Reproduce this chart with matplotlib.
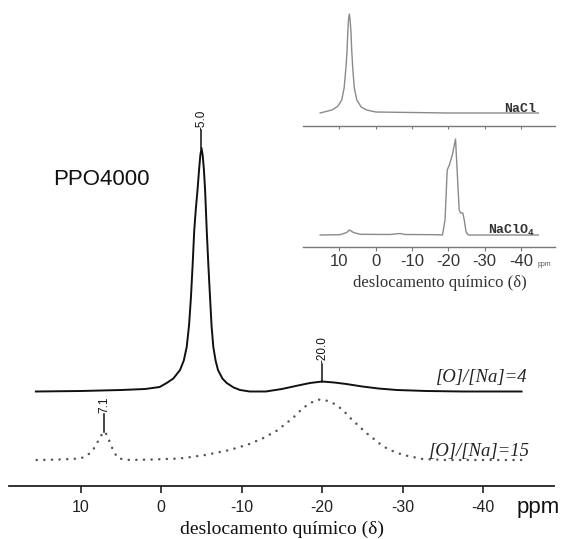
import matplotlib.pyplot as plt
import numpy as np

plt.rcParams['font.family'] = ['Liberation Sans', 'DejaVu Sans']
plt.rcParams['axes.unicode_minus'] = False

# main spectra, PPO4000 (ppm, intensity above own baseline, arbitrary units)
ppm_o4 = [15.6, 10.0, 5.0, 2.0, 0.2, -0.67, -1.5, -2.33, -2.8, -3.16, -3.45, -3.69, -3.9,
          -4.10, -4.3, -4.5, -4.7, -4.85, -5.0, -5.15, -5.3, -5.45, -5.65, -5.85, -6.06,
          -6.25, -6.47, -6.75, -7.05, -7.6, -8.13, -9.0, -9.8, -11.0, -13.0, -15.0, -17.0,
          -18.5, -20.0, -21.5, -23.0, -25.0, -27.0, -29.3, -33.0, -37.5, -44.8]
int_o4 = [0, 0.5, 1.5, 2.5, 4.5, 8.5, 13, 21.5, 31, 44.5, 66, 94.5, 127,
          161.5, 183, 201, 222, 236, 243.5, 236, 222, 201, 161.5, 127, 94.5,
          66, 44.5, 31, 21.5, 13, 8.5, 4, 1.5, 0, 0, 2.5, 6,
          8.5, 10, 9, 7.5, 5, 3, 1.5, 0.5, 0, 0]

ppm_o15 = [15.5, 12.5, 10.1, 9.3, 8.66, 8.2, 7.8, 7.4, 7.1, 6.85, 6.6, 6.3, 6.0, 5.65, 5.35,
           3.9, 1.0, -2.3, -5.5, -8.5, -10.8, -12.7, -14.3, -15.6, -16.7, -17.6, -18.8,
           -19.7, -20.8, -21.8, -22.7, -23.5, -24.5, -25.5, -26.6, -27.6, -28.9, -30.1,
           -32.5, -35.5, -40.0, -44.8]
int_o15 = [0.5, 1, 2, 4.5, 9, 14, 20.5, 26, 29, 26.5, 22.5, 16, 10.5, 5.5, 2,
           0.5, 1, 2, 5.5, 10.5, 16, 22.5, 29.5, 37.5, 45, 52.5, 58.5,
           61, 59.5, 55.5, 49.5, 42.5, 35, 27.5, 20.5, 14, 9, 5.5,
           1.5, 0.5, 0.5, 0.5]

offset_o4 = 94.2
offset_o15 = 25.2

peak_ppm = [-5.0, -20.0, 7.1]
peak_txt = ['-5.0', '-20.0', '7.1']
peak_top = [243.5 + offset_o4, 10 + offset_o4, 29 + offset_o15]

# inset: sodium salts
ppm_nacl = [15.3, 12.1, 10.5, 9.35, 8.7, 8.18, 7.9, 7.7, 7.5, 7.27, 7.05, 6.8, 6.6, 6.35,
            5.9, 5.2, 4.0, 2.5, 0.0, -20.0, -44.8]
int_nacl = [0, 3, 6.5, 13, 25, 46, 62, 80, 93, 99, 93, 80, 62, 46,
            25, 13, 6, 3, 1, 0, 0]

ppm_naclo4 = [15.3, 9.8, 8.0, 7.25, 6.1, 4.3, -3.9, -6.7, -8.1, -16.8, -18.4, -19.1,
              -19.7, -20.3, -21.1, -22.0, -22.5, -23.0, -23.4, -24.0, -24.4, -24.9,
              -25.5, -44.8]
int_naclo4 = [0, 0.3, 2.5, 5, 2.5, 0.7, 0.5, 1.5, 0.5, 0.3, 0, 15,
              65, 70, 80, 96, 60, 25, 22, 22, 15, 3,
              0, 0]

ticks = [10, 0, -10, -20, -30, -40]

W, H = 563, 539
fig = plt.figure(figsize=(W / 100, H / 100), dpi=100)

# ---- main plot ----
ax = fig.add_axes([9 / W, (H - 485.7) / H, 545 / W, 485.7 / H])
ax.set_xlim(18.94, -48.84)
ax.set_ylim(0, 485.7)
ax.patch.set_visible(False)
for s in ['left', 'right', 'top']:
    ax.spines[s].set_visible(False)
ax.spines['bottom'].set_linewidth(1.3)
ax.spines['bottom'].set_color('#222222')
ax.set_yticks([])
ax.set_xticks(ticks)
ax.set_xticklabels([str(t) for t in ticks])
ax.tick_params(axis='x', direction='out', length=5, width=1.2, pad=5.5,
               labelsize=11.5, colors='#222222')

ax.plot(ppm_o4, np.array(int_o4) + offset_o4, color='#111111', lw=1.4)
ax.plot(ppm_o15, np.array(int_o15) + offset_o15, color='#555555', lw=1.8,
        linestyle=(0, (0.05, 3.0)), dash_capstyle='round')

for p, t, top in zip(peak_ppm, peak_txt, peak_top):
    ax.plot([p, p], [top, top + 18], color='#111111', lw=1.1)
    ax.text(p, top + 18.5, t, rotation=90, ha='center', va='bottom', fontsize=8.5,
            color='#111111')

ax.text(13.47, 300.7, 'PPO4000', fontsize=16, ha='left', va='baseline', color='#111111')
ax.text(-45.5, 103.5, '[O]/[Na]=4', family='Liberation Serif', style='italic',
        fontsize=13.5, ha='right', va='baseline', color='#222222')
ax.text(-45.85, 29.5, '[O]/[Na]=15', family='Liberation Serif', style='italic',
        fontsize=13.5, ha='right', va='baseline', color='#222222')
ax.set_xlabel('deslocamento químico (δ)', family='Liberation Serif', fontsize=14,
              labelpad=4, color='#111111')
fig.text(517 / W, 1 - 512.7 / H, 'ppm', fontsize=16, ha='left', va='baseline',
         color='#111111')

# ---- inset ----
ix0, ix1 = 303, 555
axu = fig.add_axes([ix0 / W, (H - 126) / H, (ix1 - ix0) / W, 126 / H])
axl = fig.add_axes([ix0 / W, (H - 247) / H, (ix1 - ix0) / W, 121 / H])
for a, top in [(axu, 126), (axl, 121)]:
    a.set_xlim(20.03, -49.4)
    a.set_ylim(0, top)
    a.patch.set_visible(False)
    for s in ['left', 'right', 'top']:
        a.spines[s].set_visible(False)
    a.spines['bottom'].set_color('#777777')
    a.spines['bottom'].set_linewidth(1.0)
    a.set_yticks([])
    a.set_xticks(ticks)
    a.set_xticklabels([str(t) for t in ticks])

axu.tick_params(axis='x', direction='out', length=2.5, width=0.8, colors='#777777',
                labelbottom=False)
axl.tick_params(axis='x', direction='out', length=3, width=0.8, colors='#777777',
                labelsize=12, labelcolor='#333333', pad=2)

axu.plot(ppm_nacl, np.array(int_nacl) + 13, color='#8a8a8a', lw=1.0)
axl.plot(ppm_naclo4, np.array(int_naclo4) + 12, color='#8a8a8a', lw=1.0)

axu.text(-44.2, 14.5, 'NaCl', family='Liberation Mono', weight='bold', fontsize=9.5,
         ha='right', va='baseline', color='#333333')
axl.text(-44.0, 13.5, r'NaClO$_\mathregular{4}$', family='Liberation Mono',
         weight='bold', fontsize=9.5, ha='right', va='baseline', color='#333333')
fig.text(538 / W, 1 - 266 / H, 'ppm', fontsize=5, ha='left', va='baseline',
         color='#555555')
fig.text(440 / W, 1 - 283 / H, 'deslocamento químico (δ)', family='Liberation Serif',
         fontsize=12, ha='center', va='center', color='#333333')

fig.savefig('out.png', dpi=100)
